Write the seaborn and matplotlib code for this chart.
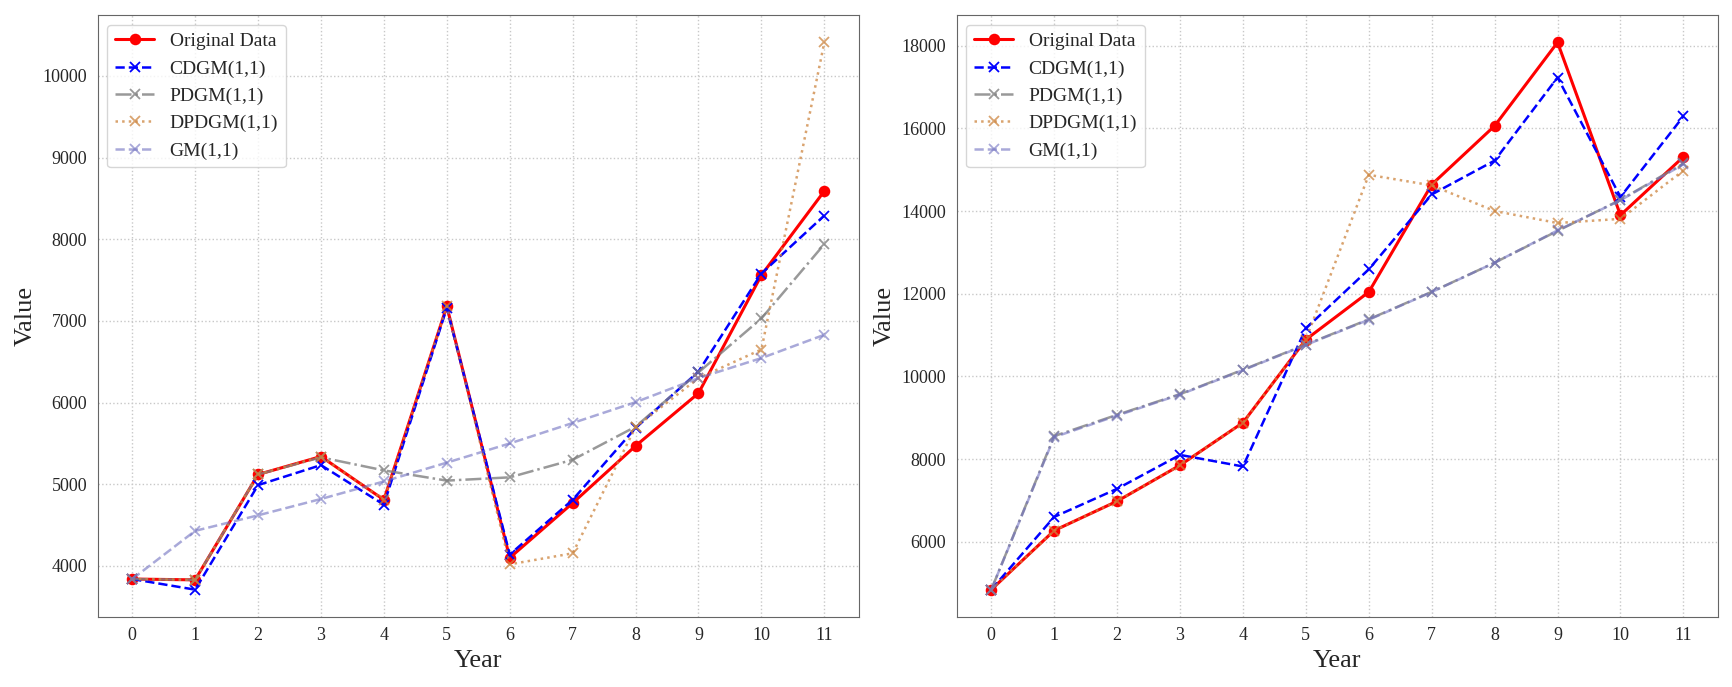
import matplotlib
matplotlib.use('Agg')
import matplotlib.pyplot as plt
import seaborn as sns

years = list(range(12))

# left panel
orig_a = [3840, 3830, 5120, 5340, 4810, 7180, 4100, 4770, 5470, 6115, 7560, 8590]
cdgm_a = [3840, 3710, 4990, 5235, 4750, 7160, 4140, 4810, 5690, 6380, 7580, 8290]
pdgm_a = [3840, 3830, 5120, 5330, 5170, 5045, 5085, 5300, 5705, 6370, 7030, 7940]
dpdgm_a = [3840, 3830, 5120, 5340, 4810, 7180, 4020, 4155, 5700, 6300, 6650, 10410]
gm_a = [3840, 4430, 4620, 4820, 5035, 5265, 5500, 5750, 6005, 6300, 6545, 6830]

# right panel
orig_b = [4840, 6270, 6980, 7850, 8880, 10890, 12040, 14640, 16060, 18080, 13900, 15310]
cdgm_b = [4840, 6600, 7280, 8100, 7820, 11160, 12590, 14400, 15220, 17230, 14340, 16290]
pdgm_b = [4840, 8555, 9070, 9570, 10160, 10770, 11380, 12045, 12750, 13520, 14270, 15150]
dpdgm_b = [4840, 6270, 6980, 7850, 8880, 10890, 14875, 14620, 14000, 13710, 13810, 14980]
gm_b = [4840, 8530, 9050, 9560, 10150, 10760, 11370, 12040, 12750, 13530, 14260, 15130]

labels = ['Original Data', 'CDGM(1,1)', 'PDGM(1,1)', 'DPDGM(1,1)', 'GM(1,1)']
styles = [
    dict(color='red', linestyle='-', marker='o', lw=2.2, ms=7, alpha=1.0),
    dict(color='blue', linestyle='--', marker='x', lw=1.8, ms=7, alpha=1.0),
    dict(color='gray', linestyle='-.', marker='x', lw=1.8, ms=7, alpha=0.8),
    dict(color='peru', linestyle=':', marker='x', lw=1.8, ms=7, alpha=0.75),
    dict(color='#7070c0', linestyle='--', marker='x', lw=1.8, ms=7, alpha=0.6),
]

sns.set_style('white')
plt.rcParams['font.family'] = ['Liberation Serif', 'DejaVu Serif']

fig, axes = plt.subplots(1, 2, figsize=(17.33, 6.87), dpi=100)

for ax, series in zip(axes, [(orig_a, cdgm_a, pdgm_a, dpdgm_a, gm_a),
                             (orig_b, cdgm_b, pdgm_b, dpdgm_b, gm_b)]):
    for vals, lab, st in zip(series, labels, styles):
        sns.lineplot(x=years, y=vals, ax=ax, label=lab,
                     color=st['color'], linestyle=st['linestyle'],
                     marker=st['marker'], linewidth=st['lw'],
                     markersize=st['ms'], alpha=st['alpha'],
                     markeredgecolor=st['color'], markeredgewidth=1.3)
    ax.set_xticks(years)
    ax.set_xlabel('Year', fontsize=19)
    ax.set_ylabel('Value', fontsize=19)
    ax.tick_params(axis='both', labelsize=13, length=4, color='#555555')
    ax.grid(True, linestyle=':', color='#c8c8c8', linewidth=1)
    for sp in ax.spines.values():
        sp.set_color('#666666')
    ax.legend(loc='upper left', fontsize=14, framealpha=0.8)

plt.tight_layout()
plt.savefig('out.png', dpi=100)
plt.close()
